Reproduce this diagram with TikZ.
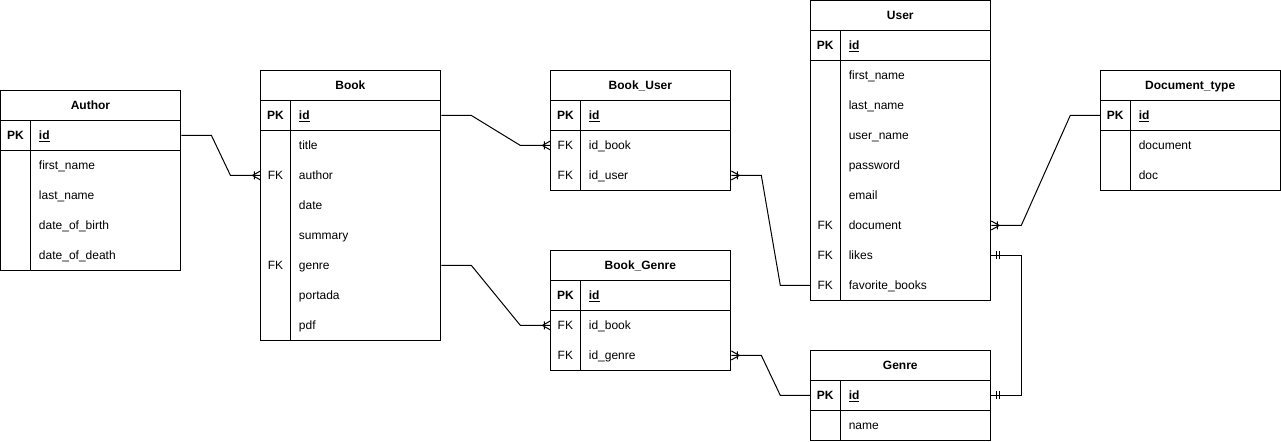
\documentclass[tikz,border=0pt]{standalone}
\usepackage{fontspec}
\setmainfont{Liberation Sans}
\usetikzlibrary{decorations.markings}

\begin{document}
\begin{tikzpicture}[x=1pt,y=-1pt,line width=1pt,
    every node/.style={font=\fontsize{12}{14}\selectfont,inner sep=0pt,text height=9pt,text depth=1pt},
    ent/.style={draw,anchor=north west,minimum width=180pt},
    ttl/.style={font=\fontsize{12}{14}\selectfont\bfseries},
    pk/.style={font=\fontsize{12}{14}\selectfont\bfseries},
    fld/.style={anchor=west},
    many/.style={postaction={decorate,decoration={markings,
        mark=at position 1 with {\draw (-8pt,0pt) -- (0pt,4.5pt) (-8pt,0pt) -- (0pt,-4.5pt) (-6pt,-4pt) -- (-6pt,4pt);}}}},
    ones/.style={postaction={decorate,decoration={markings,
        mark=at position 0 with {\draw (5pt,-4pt) -- (5pt,4pt) (8pt,-4pt) -- (8pt,4pt);},
        mark=at position 1 with {\draw (-5pt,-4pt) -- (-5pt,4pt) (-8pt,-4pt) -- (-8pt,4pt);}}}}]
  \useasboundingbox (-0.5,-0.5) rectangle (1280.8,441.2);

  % Author
  \node[ent,minimum height=180pt] (Author) at (0,90) {};
  \draw (0,120) -- (180,120) (0,150) -- (180,150) (30,120) -- (30,270);
  \node[ttl] (Author-t) at (90,105) {Author};
  \node[pk] (Author-pk) at (15,135) {PK};
  \node[pk,fld] (Author-id) at (38,135) {\underline{id}};
  \foreach \f [count=\i] in {first\_name,last\_name,date\_of\_birth,date\_of\_death}
    \node[fld] (Author-f\i) at (38,135+30*\i) {\f};

  % Book
  \node[ent,minimum height=270pt] (Book) at (260,70) {};
  \draw (260,100) -- (440,100) (260,130) -- (440,130) (290,100) -- (290,340);
  \node[ttl] (Book-t) at (350,85) {Book};
  \node[pk] (Book-pk) at (275,115) {PK};
  \node[pk,fld] (Book-id) at (298,115) {\underline{id}};
  \foreach \f [count=\i] in {title,author,date,summary,genre,portada,pdf}
    \node[fld] (Book-f\i) at (298,115+30*\i) {\f};
  \node (Book-fk1) at (275,175) {FK};
  \node (Book-fk2) at (275,265) {FK};

  % Book_User
  \node[ent,minimum height=120pt] (BookUser) at (550,70) {};
  \draw (550,100) -- (730,100) (550,130) -- (730,130) (580,100) -- (580,190);
  \node[ttl] (BookUser-t) at (640,85) {Book\_User};
  \node[pk] (BookUser-pk) at (565,115) {PK};
  \node[pk,fld] (BookUser-id) at (588,115) {\underline{id}};
  \foreach \f [count=\i] in {id\_book,id\_user}{
    \node[fld] (BookUser-f\i) at (588,115+30*\i) {\f};
    \node (BookUser-fk\i) at (565,115+30*\i) {FK};
  }

  % Book_Genre
  \node[ent,minimum height=120pt] (BookGenre) at (550,250) {};
  \draw (550,280) -- (730,280) (550,310) -- (730,310) (580,280) -- (580,370);
  \node[ttl] (BookGenre-t) at (640,265) {Book\_Genre};
  \node[pk] (BookGenre-pk) at (565,295) {PK};
  \node[pk,fld] (BookGenre-id) at (588,295) {\underline{id}};
  \foreach \f [count=\i] in {id\_book,id\_genre}{
    \node[fld] (BookGenre-f\i) at (588,295+30*\i) {\f};
    \node (BookGenre-fk\i) at (565,295+30*\i) {FK};
  }

  % User
  \node[ent,minimum height=300pt] (User) at (810,0) {};
  \draw (810,30) -- (990,30) (810,60) -- (990,60) (840,30) -- (840,300);
  \node[ttl] (User-t) at (900,15) {User};
  \node[pk] (User-pk) at (825,45) {PK};
  \node[pk,fld] (User-id) at (848,45) {\underline{id}};
  \foreach \f [count=\i] in {first\_name,last\_name,user\_name,password,email,document,likes,favorite\_books}
    \node[fld] (User-f\i) at (848,45+30*\i) {\f};
  \foreach \i in {6,7,8}
    \node (User-fk\i) at (825,45+30*\i) {FK};

  % Document_type
  \node[ent,minimum height=120pt] (DocType) at (1100,70) {};
  \draw (1100,100) -- (1280,100) (1100,130) -- (1280,130) (1130,100) -- (1130,190);
  \node[ttl] (DocType-t) at (1190,85) {Document\_type};
  \node[pk] (DocType-pk) at (1115,115) {PK};
  \node[pk,fld] (DocType-id) at (1138,115) {\underline{id}};
  \node[fld] (DocType-f1) at (1138,145) {document};
  \node[fld] (DocType-f2) at (1138,175) {doc};

  % Genre
  \node[ent,minimum height=90pt] (Genre) at (810,350) {};
  \draw (810,380) -- (990,380) (810,410) -- (990,410) (840,380) -- (840,440);
  \node[ttl] (Genre-t) at (900,365) {Genre};
  \node[pk] (Genre-pk) at (825,395) {PK};
  \node[pk,fld] (Genre-id) at (848,395) {\underline{id}};
  \node[fld] (Genre-f1) at (848,425) {name};

  % relations
  \draw[many] (Author.east |- Author-id) -- ++(30,0) -- ([xshift=-30pt]Book.west |- Book-f2) -- (Book.west |- Book-f2);
  \draw[many] (Book.east |- Book-id) -- ++(30,0) -- ([xshift=-30pt]BookUser.west |- BookUser-f1) -- (BookUser.west |- BookUser-f1);
  \draw[many] (User.west |- User-f8) -- ++(-30,0) -- ([xshift=30pt]BookUser.east |- BookUser-f2) -- (BookUser.east |- BookUser-f2);
  \draw[many] (DocType.west |- DocType-id) -- ++(-30,0) -- ([xshift=30pt]User.east |- User-f6) -- (User.east |- User-f6);
  \draw[ones] (User.east |- User-f7) -- ++(30,0) |- (Genre.east |- Genre-id);
  \draw[many] (Book.east |- Book-f5) -- ++(30,0) -- ([xshift=-30pt]BookGenre.west |- BookGenre-f1) -- (BookGenre.west |- BookGenre-f1);
  \draw[many] (Genre.west |- Genre-id) -- ++(-30,0) -- ([xshift=30pt]BookGenre.east |- BookGenre-f2) -- (BookGenre.east |- BookGenre-f2);
\end{tikzpicture}
\end{document}
